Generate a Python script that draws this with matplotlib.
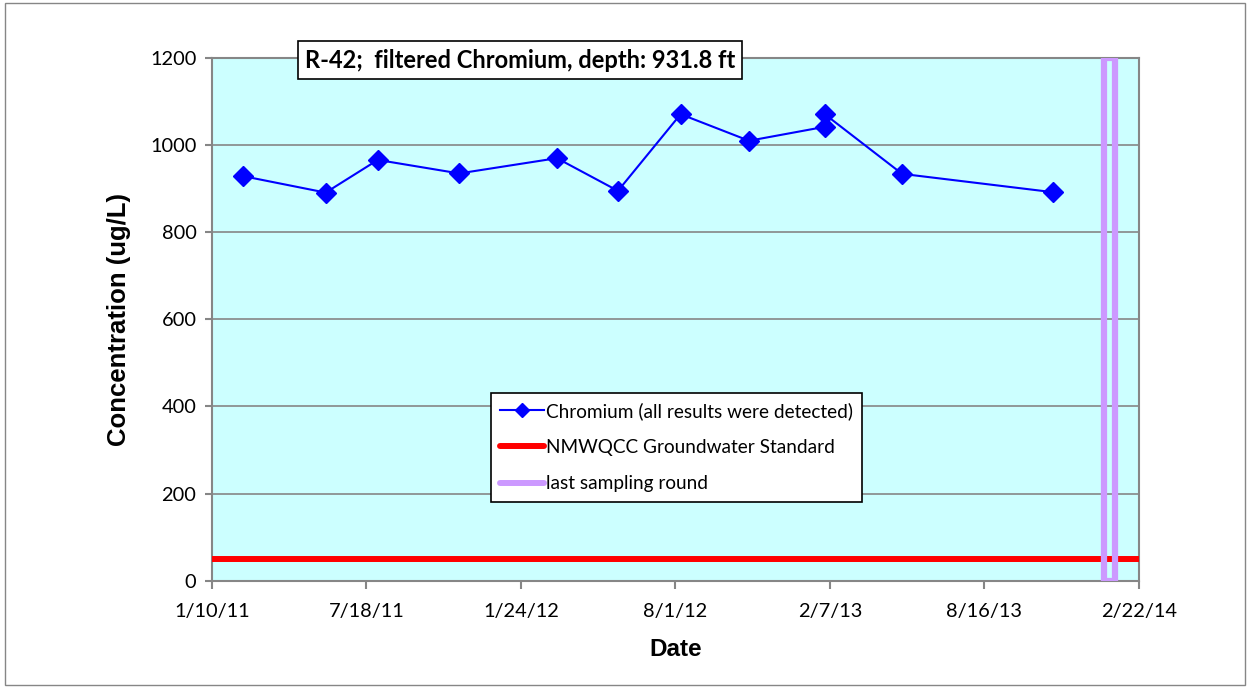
import matplotlib
matplotlib.use('Agg')
import matplotlib.pyplot as plt
import matplotlib.dates as mdates
from matplotlib.lines import Line2D
from matplotlib.patches import Rectangle
import numpy as np
import pandas as pd

plt.rcParams['font.family'] = ['Lato', 'DejaVu Sans']

# データ (ug/L)
sample_dates = ['2011-02-17', '2011-05-30', '2011-08-02', '2011-11-10', '2012-03-09',
                '2012-05-23', '2012-08-08', '2012-10-31', '2013-02-01', '2013-02-01',
                '2013-05-07', '2013-11-08']
chromium = [929, 891, 966, 935, 970, 895, 1071, 1010, 1042, 1071, 934, 892]
standard = [50]
last_round = ['2014-01-17']

x_tick_labels = ['1/10/11', '7/18/11', '1/24/12', '8/1/12', '2/7/13', '8/16/13', '2/22/14']
y_ticks = [0, 200, 400, 600, 800, 1000, 1200]

title_text = 'R-42;  filtered Chromium, depth: 931.8 ft'

W, H = 1251, 688
fig = plt.figure(figsize=(W / 100, H / 100), dpi=100)
# プロット領域 (px)
left, right, top, bottom = 211.7, 1139, 58, 580.7
ax = fig.add_axes([left / W, 1 - bottom / H, (right - left) / W, (bottom - top) / H])
ax.set_facecolor('#CCFFFF')

grey = '#868686'
x_min = mdates.date2num(pd.Timestamp('2011-01-10'))
x_max = mdates.date2num(pd.Timestamp('2014-02-22'))

ax.set_xlim(x_min, x_max)
ax.set_ylim(0, 1200)
ax.set_xticks(np.linspace(x_min, x_max, len(x_tick_labels)))
ax.set_xticklabels(x_tick_labels)
ax.set_yticks(y_ticks)
ax.yaxis.grid(True, color=grey, lw=1.2)
ax.set_axisbelow(True)
for s in ax.spines.values():
    s.set_color(grey)
    s.set_linewidth(1.5)
ax.tick_params(axis='both', colors=grey, labelcolor='black', labelsize=14.4, width=1.5)
ax.tick_params(axis='x', length=6, pad=10)
ax.tick_params(axis='y', length=5, pad=6)

# 基準線
for v in standard:
    ax.axhline(v, color='#FF0000', lw=4.3, solid_capstyle='round', zorder=3)

# 最終サンプリング
half = 6.75
for d in last_round:
    xd = mdates.date2num(pd.Timestamp(d))
    ax.add_patch(Rectangle((xd - half, 0), 2 * half, 1200, facecolor='none',
                           edgecolor='#CC99FF', lw=4.5, zorder=4))

dates = mdates.date2num(pd.to_datetime(sample_dates))
ax.plot(dates, chromium, color='#0000FF', lw=1.5, marker='D', ms=10, mew=1, zorder=5)

ax.set_xlabel('Date', family='Liberation Sans', fontweight='bold', fontsize=17.5)
ax.set_ylabel('Concentration (ug/L)', family='Liberation Sans', fontweight='bold', fontsize=18.5)
ax.yaxis.set_label_coords((131 - left) / (right - left), 0.5)
ax.xaxis.set_label_coords(0.5, -(638 - bottom) / (bottom - top))

handles = [
    Line2D([], [], color='#0000FF', lw=1.5, marker='D', ms=7),
    Line2D([], [], color='#FF0000', lw=4.3, solid_capstyle='round'),
    Line2D([], [], color='#CC99FF', lw=4.3, solid_capstyle='round'),
]
labels = ['Chromium (all results were detected)', 'NMWQCC Groundwater Standard', 'last sampling round']
leg = ax.legend(handles, labels, loc='upper left', bbox_to_anchor=(490.7 / W, 1 - 392.7 / H),
                bbox_transform=fig.transFigure, borderaxespad=0, fontsize=13.7, fancybox=False,
                framealpha=1, edgecolor='black', handlelength=2.3, handletextpad=0.1,
                labelspacing=1.0, borderpad=0.5)
leg.get_frame().set_linewidth(1.2)

fig.text(520 / W, 1 - 60 / H, title_text, ha='center', va='center', fontsize=17,
         fontweight='bold', bbox=dict(boxstyle='square,pad=0.3', fc='white', ec='black', lw=1.2))

# 外枠
fig.patches.append(Rectangle((5 / W, 3 / H), 1240 / W, 682 / H, transform=fig.transFigure,
                             fill=False, edgecolor=grey, lw=1))

fig.savefig('out.png', dpi=100)
